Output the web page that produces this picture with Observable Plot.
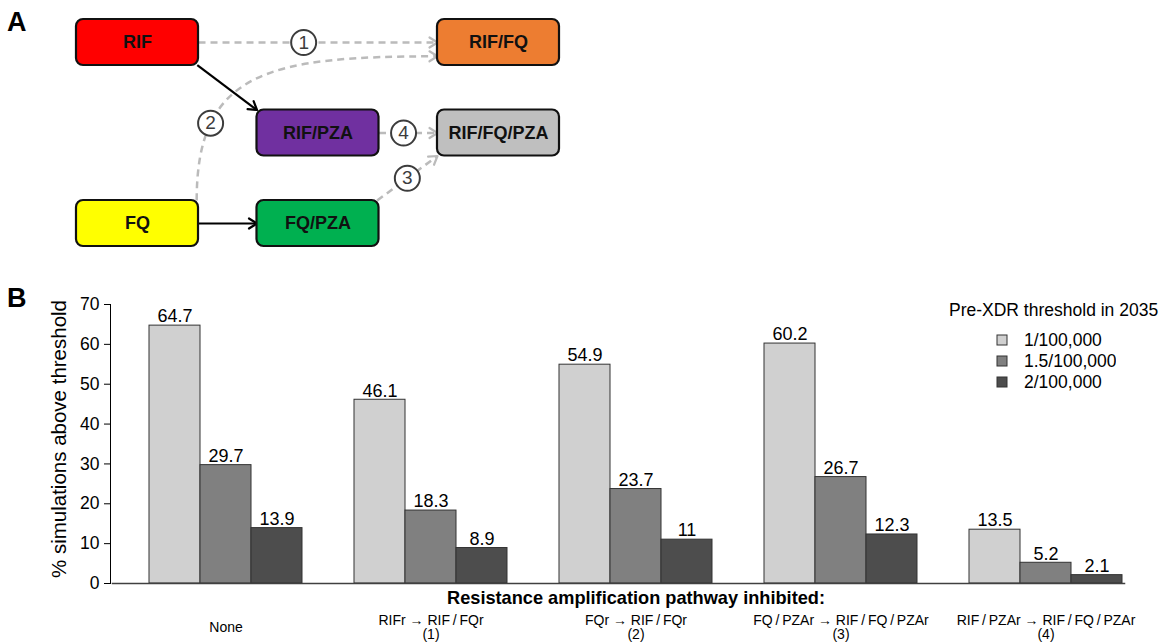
<!DOCTYPE html>
<html>
<head>
<meta charset="utf-8">
<script src="https://cdn.jsdelivr.net/npm/d3@7"></script>
<script src="https://cdn.jsdelivr.net/npm/@observablehq/plot@0.6"></script>
<style>
  html, body { margin: 0; padding: 0; background: #fff; }
  #page { position: relative; width: 1163px; height: 642px; overflow: hidden; font-family: "Liberation Sans", Arial, sans-serif; color: #000; }
  .panel-label { position: absolute; font-weight: bold; font-size: 27px; line-height: 1; z-index: 2; }
  #diagram { position: absolute; left: 0; top: 0; }
  #bars { position: absolute; left: 0; top: 280px; }
  #legend-title { position: absolute; left: 949px; top: 302px; font-size: 17.5px; line-height: 1; white-space: nowrap; }
  #legend { position: absolute; left: 997px; top: 330px; }
  #legend svg { margin-right: 17px; }
  #legend svg rect { stroke: #333; stroke-width: 1; }
</style>
</head>
<body>
<div id="page">
  <div id="diagram"></div>
  <div id="bars"></div>
  <div class="panel-label" style="left:7px;top:9px;">A</div>
  <div class="panel-label" style="left:7px;top:285px;">B</div>
  <div id="legend-title">Pre-XDR threshold in 2035</div>
  <div id="legend"></div>
</div>
<script>
// ---------- Panel B data ----------
const categories = ["None", "(1)", "(2)", "(3)", "(4)"];
const categoryLabels = [
  "None",
  "RIFr \u2192 RIF\u2009/\u2009FQr\n(1)",
  "FQr \u2192 RIF\u2009/\u2009FQr\n(2)",
  "FQ\u2009/\u2009PZAr \u2192 RIF\u2009/\u2009FQ\u2009/\u2009PZAr\n(3)",
  "RIF\u2009/\u2009PZAr \u2192 RIF\u2009/\u2009FQ\u2009/\u2009PZAr\n(4)"
];
const thresholds = ["1/100,000", "1.5/100,000", "2/100,000"];
const valuesT1 = [64.7, 46.1, 54.9, 60.2, 13.5];
const valuesT15 = [29.7, 18.3, 23.7, 26.7, 5.2];
const valuesT2 = [13.9, 8.9, 11, 12.3, 2.1];
const yTicks = [0, 10, 20, 30, 40, 50, 60, 70];
const barColors = ["#d0d0d0", "#808080", "#4d4d4d"];
const yTitle = "% simulations above threshold";
const xTitle = "Resistance amplification pathway inhibited:";

// ---------- Panel A data ----------
const nodeNames = ["RIF", "FQ", "RIF/PZA", "FQ/PZA", "RIF/FQ", "RIF/FQ/PZA"];
const nodeColumns = [0, 0, 1, 1, 2, 2];
const nodeRows = [0, 2, 1, 2, 0, 1];
const nodeColors = ["#ff0000", "#ffff00", "#7030a0", "#00b050", "#ed7d31", "#bfbfbf"];
const edgeFrom = ["RIF", "FQ", "RIF", "FQ", "FQ/PZA", "RIF/PZA"];
const edgeTo = ["RIF/PZA", "FQ/PZA", "RIF/FQ", "RIF/FQ", "RIF/FQ/PZA", "RIF/FQ/PZA"];
const edgePathway = [null, null, "1", "2", "3", "4"];

const FONT = '"Liberation Sans", Arial, sans-serif';

// ---------- Panel A ----------
const hw = 0.338, hh = 0.254; // box half-size in grid units
const nodes = nodeNames.map((name, i) => ({name, col: nodeColumns[i], row: nodeRows[i]}));
const nodeBy = new Map(nodes.map(n => [n.name, n]));
const anchorOffsets = {
  "right": [1, 0], "left": [-1, 0], "top-right": [0.97, -1], "bottom-right": [0.98, 0.98],
  "top-left": [-1, -1], "bottom-left": [-1, 1], "left-low": [-1, 0.6]
};
const edgeStartSide = ["bottom-right", "right", "right", "top-right", "top-right", "right"];
const edgeEndSide = ["top-left", "left", "left", "left-low", "bottom-left", "left"];
const edgeShape = ["straight", "straight", "straight", "elbow", "straight", "straight"];
const labelT = [null, null, 0.44, 0.25, 0.5, 0.42];
const edges = edgeFrom.map((f, i) => {
  const a = nodeBy.get(f), b = nodeBy.get(edgeTo[i]);
  const sa = anchorOffsets[edgeStartSide[i]], sb = anchorOffsets[edgeEndSide[i]];
  return {
    pathway: edgePathway[i], shape: edgeShape[i], t: labelT[i],
    x1: a.col + sa[0] * hw, y1: a.row + sa[1] * hh,
    x2: b.col + sb[0] * hw, y2: b.row + sb[1] * hh
  };
});
function elbowPoint(e, t) {
  const c1x = e.x1, c1y = e.y1 + 0.9 * (e.y2 - e.y1);
  const c2x = e.x1 + 0.3 * (e.x2 - e.x1), c2y = e.y2;
  const u = 1 - t;
  return [
    u*u*u*e.x1 + 3*u*u*t*c1x + 3*u*t*t*c2x + t*t*t*e.x2,
    u*u*u*e.y1 + 3*u*u*t*c1y + 3*u*t*t*c2y + t*t*t*e.y2
  ];
}
const pathwayLabels = edges.filter(e => e.pathway != null).map(e => {
  const [x, y] = e.shape === "elbow" ? elbowPoint(e, e.t) : [e.x1 + e.t * (e.x2 - e.x1), e.y1 + e.t * (e.y2 - e.y1)];
  return {x, y, label: e.pathway};
});
function elbowCurve(context) {
  let p = [];
  return {
    areaStart() {}, areaEnd() {},
    lineStart() { p = []; },
    point(x, y) { p.push([+x, +y]); },
    lineEnd() {
      const a = p[0], b = p[p.length - 1];
      context.moveTo(a[0], a[1]);
      context.bezierCurveTo(a[0], a[1] + 0.9 * (b[1] - a[1]), a[0] + 0.3 * (b[0] - a[0]), b[1], b[0], b[1]);
    }
  };
}
function chevron(color) {
  const ns = "http://www.w3.org/2000/svg";
  const m = document.createElementNS(ns, "marker");
  m.setAttribute("viewBox", "-12 -12 24 24");
  m.setAttribute("markerWidth", 24);
  m.setAttribute("markerHeight", 24);
  m.setAttribute("markerUnits", "userSpaceOnUse");
  m.setAttribute("orient", "auto");
  const p = document.createElementNS(ns, "path");
  p.setAttribute("d", "M-8,-5L0,0L-8,5");
  p.setAttribute("fill", "none");
  p.setAttribute("stroke", color);
  p.setAttribute("stroke-width", 2.2);
  p.setAttribute("stroke-dasharray", "none");
  p.setAttribute("stroke-linecap", "round");
  p.setAttribute("stroke-linejoin", "round");
  m.append(p);
  return m;
}

const diagram = Plot.plot({
  width: 600, height: 260, margin: 0,
  x: {domain: [0, 2], range: [137, 498], axis: null},
  y: {domain: [0, 2], range: [42, 223], axis: null},
  color: {domain: nodeNames, range: nodeColors},
  style: {fontFamily: FONT, background: "transparent", overflow: "visible"},
  marks: [
    Plot.link(edges.filter(e => e.pathway == null), {
      x1: "x1", y1: "y1", x2: "x2", y2: "y2", stroke: "black", strokeWidth: 2.2, markerEnd: chevron
    }),
    Plot.link(edges.filter(e => e.pathway != null && e.shape === "straight"), {
      x1: "x1", y1: "y1", x2: "x2", y2: "y2", stroke: "#bbbbbb", strokeWidth: 2.5,
      strokeDasharray: "7,5", markerEnd: chevron
    }),
    Plot.link(edges.filter(e => e.shape === "elbow"), {
      x1: "x1", y1: "y1", x2: "x2", y2: "y2", stroke: "#bbbbbb", strokeWidth: 2.5,
      strokeDasharray: "7,5", curve: elbowCurve, markerEnd: chevron
    }),
    Plot.rect(nodes, {
      x1: d => d.col - hw, x2: d => d.col + hw, y1: d => d.row - hh, y2: d => d.row + hh,
      fill: "name", stroke: "#111", strokeWidth: 2.2, rx: 7
    }),
    Plot.text(nodes, {x: "col", y: "row", text: "name", fontWeight: "bold", fontSize: 18, fill: "#111"}),
    Plot.dot(pathwayLabels, {x: "x", y: "y", r: 12.5, fill: "white", stroke: "#3c3c3c", strokeWidth: 2}),
    Plot.text(pathwayLabels, {x: "x", y: "y", text: "label", fontSize: 19, fill: "#3c3c3c"})
  ]
});
document.getElementById("diagram").append(diagram);

// ---------- Panel B ----------
const seriesValues = [valuesT1, valuesT15, valuesT2];
const data = thresholds.flatMap((t, ti) => categories.map((c, ci) => ({
  category: c, threshold: t, value: seriesValues[ti][ci]
})));
const labelOf = new Map(categories.map((c, i) => [c, categoryLabels[i]]));

const bars = Plot.plot({
  width: 1163, height: 362,
  marginTop: 24, marginBottom: 59, marginLeft: 147, marginRight: 38,
  style: {fontFamily: FONT, fontSize: "17px", color: "#000", background: "transparent", overflow: "visible"},
  fx: {domain: categories, paddingInner: 0.2524, paddingOuter: 0},
  x: {domain: thresholds, axis: null, padding: 0},
  y: {domain: [0, 70]},
  color: {domain: thresholds, range: barColors},
  marks: [
    Plot.barY(data, {fx: "category", x: "threshold", y: "value", fill: "threshold", stroke: "#333", strokeWidth: 1}),
    Plot.text(data, {fx: "category", x: "threshold", y: "value", text: d => String(d.value), dy: -9, fontSize: 18}),
    Plot.frame({anchor: "bottom", facet: "super", insetLeft: -37, insetRight: -2, stroke: "#404040", strokeWidth: 1.5}),
    Plot.axisY({ticks: yTicks, tickSize: 6, tickPadding: 5, dx: -39, label: null, fontSize: 17.5}),
    Plot.frame({anchor: "left", facet: "super", dx: -39}),
    Plot.axisFx({anchor: "bottom", tickSize: 0, tickPadding: 44, lineAnchor: "middle", label: null,
      tickFormat: d => labelOf.get(d), fontSize: 14}),
    Plot.text([yTitle], {facet: "super", text: d => d, frameAnchor: "left", textAnchor: "middle", lineAnchor: "middle",
      rotate: -90, dx: -90, dy: -5, fontSize: 20.5}),
    Plot.text([xTitle], {facet: "super", text: d => d, frameAnchor: "bottom", textAnchor: "middle", lineAnchor: "middle",
      dy: 15, fontWeight: "bold", fontSize: 18.2})
  ]
});
document.getElementById("bars").append(bars);

const legend = bars.legend("color", {columns: 1, swatchSize: 10, style: {fontSize: "17.5px", fontFamily: FONT, lineHeight: "1.15"}});
document.getElementById("legend").append(legend);
</script>
</body>
</html>
